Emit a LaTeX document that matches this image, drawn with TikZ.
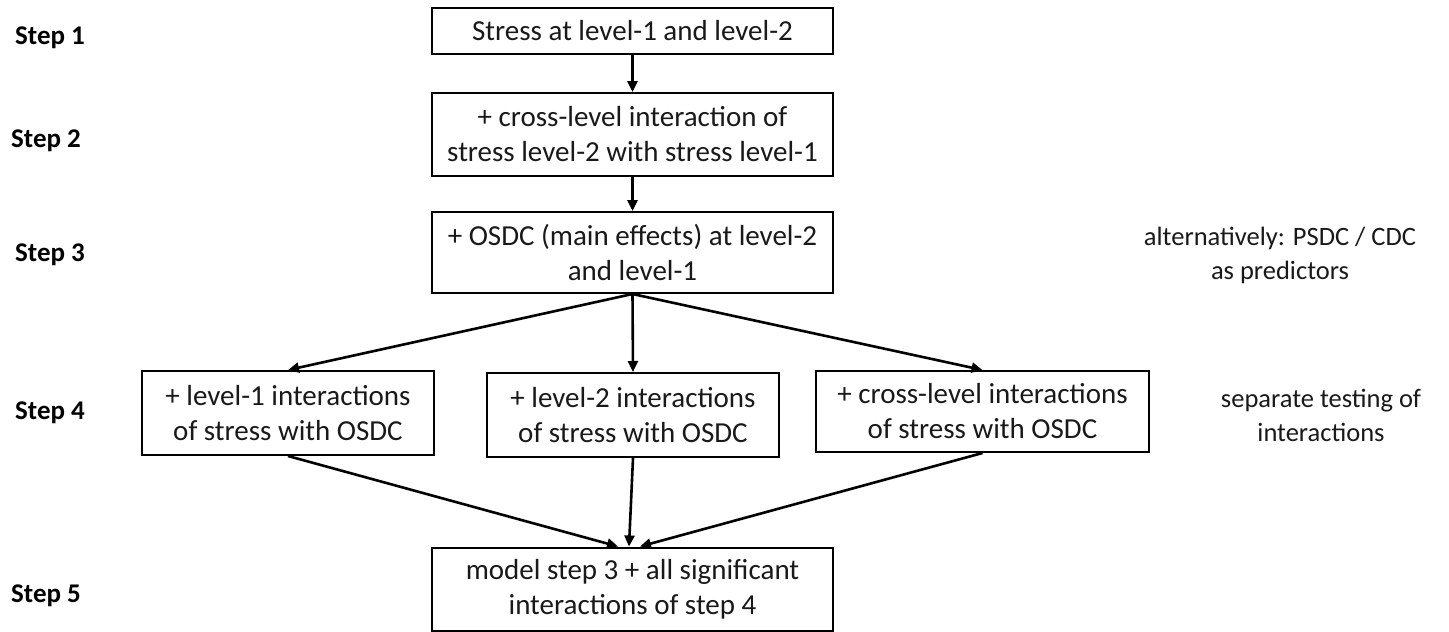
\documentclass[tikz,border=0pt]{standalone}
\usepackage{fontspec}
\setmainfont{Carlito}
\usetikzlibrary{arrows.meta,calc}
\tikzset{
  box/.style={draw=black, line width=2pt, align=center, inner sep=2pt,
    font=\fontsize{29}{35}\selectfont, text=black!90},
  steplabel/.style={anchor=west, font=\fontsize{27}{30}\selectfont\bfseries, inner sep=0pt},
  note/.style={align=center, font=\fontsize{26.5}{34}\selectfont, text=black!90},
  arr/.style={line width=2.6pt, -{Triangle[length=11pt,width=10pt]}}
}
\begin{document}
\begin{tikzpicture}[x=1pt,y=-1pt]
\useasboundingbox (0,0) rectangle (1449,632);
% boxes
\node[box, minimum width=401pt, minimum height=46pt] (b1) at (632.5,31) {Stress at level-1 and level-2};
\node[box, minimum width=401pt, minimum height=83pt] (b2) at (632.5,134.5) {+ cross-level interaction of\\stress level-2 with stress level-1};
\node[box, minimum width=401pt, minimum height=81pt] (b3) at (632.5,252.5) {+ OSDC (main effects) at level-2\\and level-1};
\node[box, minimum width=292pt, minimum height=84pt] (b4a) at (288,413) {+ level-1 interactions\\of stress with OSDC};
\node[box, minimum width=292pt, minimum height=84pt] (b4b) at (633,415) {+ level-2 interactions\\of stress with OSDC};
\node[box, minimum width=333pt, minimum height=81pt] (b4c) at (982.5,411.5) {+ cross-level interactions\\of stress with OSDC};
\node[box, minimum width=401pt, minimum height=83pt] (b5) at (632.5,589) {model step 3 + all significant\\interactions of step 4};
% step labels
\node[steplabel] (s1) at (15,38) {Step 1};
\node[steplabel] (s2) at (11,141) {Step 2};
\node[steplabel] (s3) at (15,255) {Step 3};
\node[steplabel] (s4) at (15,413) {Step 4};
\node[steplabel] (s5) at (11,596) {Step 5};
% notes
\node[note] (n1) at (1280,255) {alternatively: PSDC / CDC\\as predictors};
\node[note] (n2) at (1321,415) {separate testing of\\interactions};
% connectors
\coordinate (t5a) at ($(b5.north)+(-14.5,0)$);
\coordinate (t5b) at ($(b5.north)+(-3.5,0)$);
\coordinate (t5c) at ($(b5.north)+(7.5,0)$);
\draw[arr] (b1.south) -- (b2.north);
\draw[arr] (b2.south) -- (b3.north);
\draw[arr] (b3.south) -- (b4a.north);
\draw[arr] (b3.south) -- (b4b.north);
\draw[arr] (b3.south) -- (b4c.north);
\draw[arr] (b4a.south) -- (t5a);
\draw[arr] (b4b.south) -- (t5b);
\draw[arr] (b4c.south) -- (t5c);
\end{tikzpicture}
\end{document}
